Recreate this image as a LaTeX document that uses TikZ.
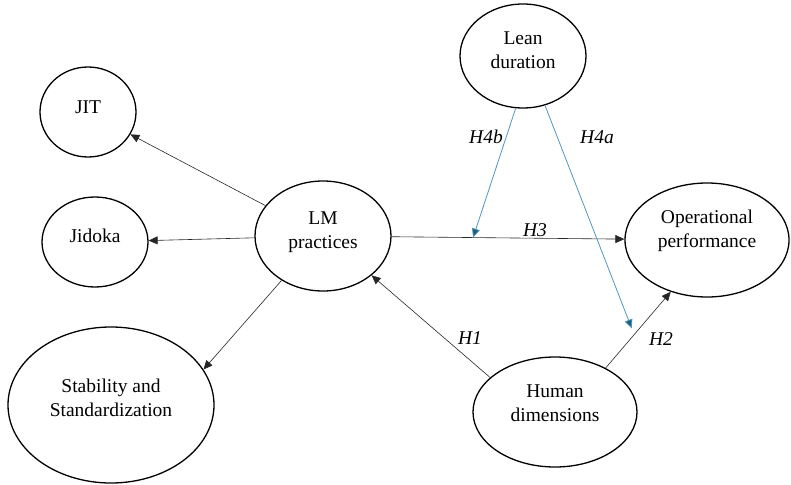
\documentclass[tikz,border=0pt]{standalone}
\usepackage{fontspec}
\setmainfont{Liberation Serif}
\usepackage{tikz}
\usetikzlibrary{arrows.meta,shapes.geometric}
\definecolor{leanline}{RGB}{80,150,190}
\definecolor{leanhead}{RGB}{30,92,122}

\begin{document}
\begin{tikzpicture}[
    x=1pt, y=-1pt,
    >={Triangle[length=9pt,width=8pt]},
    construct/.style={ellipse, draw=black, line width=1.3pt, inner sep=0pt, align=center,
        font=\fontsize{19.5}{24}\selectfont},
    path arrow/.style={->, line width=0.6pt, draw=black!85},
    moderation/.style={->, line width=0.8pt, draw=leanline, >={Triangle[length=9pt,width=8pt,fill=leanhead]}},
    hyp/.style={font=\fontsize{19.5}{24}\selectfont\itshape}
]
    \useasboundingbox (0,0) rectangle (791,484);

    \node[construct, minimum width=96pt, minimum height=90pt, text depth=10pt] (jit) at (88,112) {JIT};
    \node[construct, minimum width=106pt, minimum height=90pt, text depth=12pt] (jidoka) at (95,242) {Jidoka};
    \node[construct, minimum width=206pt, minimum height=156pt, text depth=14pt] (stab) at (111,405) {Stability and\\Standardization};
    \node[construct, minimum width=136pt, minimum height=110pt, text depth=12pt] (lm) at (323,236) {LM\\practices};
    \node[construct, minimum width=126pt, minimum height=104pt, text depth=12pt] (lean) at (523,56) {Lean\\duration};
    \node[construct, minimum width=164pt, minimum height=114pt, text depth=22pt] (perf) at (707,240) {Operational\\performance};
    \node[construct, minimum width=164pt, minimum height=110pt, text depth=17pt] (human) at (555,412) {Human\\dimensions};

    \draw[path arrow] (lm) -- (jit);
    \draw[path arrow] (lm) -- (jidoka);
    \draw[path arrow] (lm.227) -- (stab.21);
    \draw[path arrow] (lm) -- coordinate[pos=0.35] (h3mid) (perf);
    \draw[path arrow] (human.152) -- (lm.321);
    \draw[path arrow] (human.41) -- coordinate[pos=0.47] (h2mid) (perf.235);

    \draw[moderation] (lean.262) -- (h3mid);
    \draw[moderation, shorten >=4pt] (lean.294) -- ([xshift=-3pt]h2mid);

    \node[hyp] (h1) at (470,338) {H1};
    \node[hyp] (h2) at (661,339) {H2};
    \node[hyp] (h3) at (535,230) {H3};
    \node[hyp] (h4a) at (597,137) {H4a};
    \node[hyp] (h4b) at (486,137) {H4b};
\end{tikzpicture}
\end{document}
